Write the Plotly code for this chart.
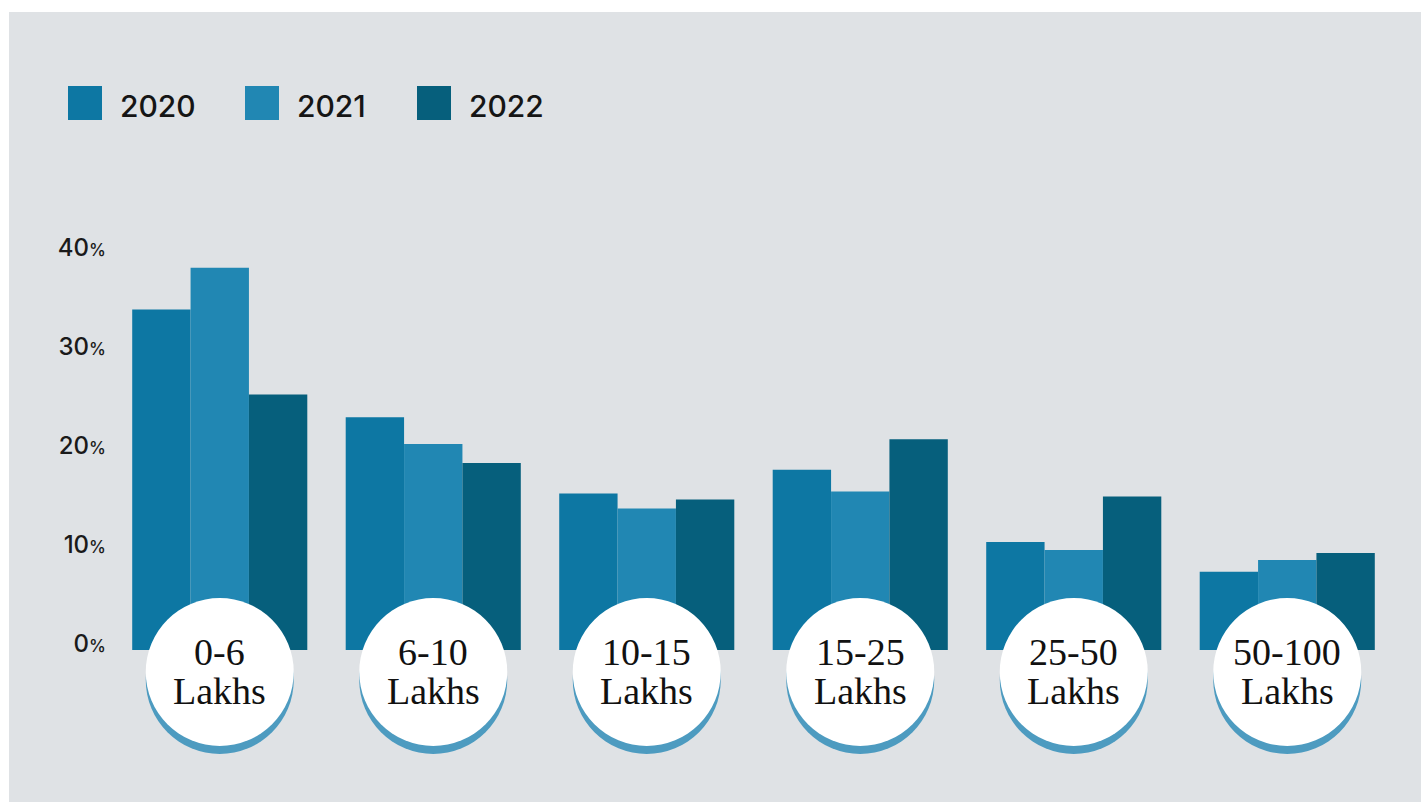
import plotly.graph_objects as go

# ---------------- data ----------------
categories = ["0-6 Lakhs", "6-10 Lakhs", "10-15 Lakhs", "15-25 Lakhs", "25-50 Lakhs", "50-100 Lakhs"]
cat_line1 = ["0-6", "6-10", "10-15", "15-25", "25-50", "50-100"]
cat_line2 = ["Lakhs"] * 6
years = ["2020", "2021", "2022"]
v2020 = [34.4, 23.5, 15.8, 18.2, 10.9, 7.9]
v2021 = [38.6, 20.8, 14.3, 16.0, 10.1, 9.1]
v2022 = [25.8, 18.9, 15.2, 21.3, 15.5, 9.8]
tick_vals = [0, 10, 20, 30, 40]
tick_text = ["0%", "10%", "20%", "30%", "40%"]

# ---------------- style / layout ----------------
W, H = 1421, 802
ML, MR, MT, MB = 113, 27, 254, 152
PW, PH = W - ML - MR, H - MT - MB
colors = ["#0d77a3", "#2187b3", "#065f7c"]
BG = "#dfe2e5"
TICK_FONT = "Inter"


def px_x(px):
    return (px - ML) / PW


def px_y(py):
    return (H - MB - py) / PH


fig = go.Figure()
for name, vals, col in zip(years, [v2020, v2021, v2022], colors):
    fig.add_trace(go.Bar(
        x=list(range(len(categories))), y=vals, name=name,
        marker=dict(color=col, line=dict(width=0)),
        hovertext=categories, showlegend=False,
    ))

shapes = []
# grey panel
shapes.append(dict(type="rect", xref="paper", yref="paper",
                   x0=px_x(9), x1=px_x(W + 5), y0=px_y(12), y1=px_y(H + 5),
                   fillcolor=BG, line=dict(width=0), layer="below"))

# category badges (shadow + white circle), anchored to category positions
R = 74
CY = -22  # pixel offset of circle centre below the zero line
for i in range(len(categories)):
    shapes.append(dict(type="circle", xref="x", yref="paper",
                       xsizemode="pixel", ysizemode="pixel",
                       xanchor=i, yanchor=0,
                       x0=-R, x1=R, y0=CY - 8 - R, y1=CY - 8 + R,
                       fillcolor="#4d9bc0", line=dict(width=0), layer="above"))
    shapes.append(dict(type="circle", xref="x", yref="paper",
                       xsizemode="pixel", ysizemode="pixel",
                       xanchor=i, yanchor=0,
                       x0=-R, x1=R, y0=CY - R, y1=CY + R,
                       fillcolor="white", line=dict(width=0), layer="above"))

annotations = []
for i in range(len(categories)):
    annotations.append(dict(x=i, xref="x", y=0, yref="paper", yshift=-2,
                            text=cat_line1[i], showarrow=False,
                            font=dict(family="Liberation Serif", size=38, color="#111111"),
                            xanchor="center", yanchor="middle"))
    annotations.append(dict(x=i, xref="x", y=0, yref="paper", yshift=-41,
                            text=cat_line2[i], showarrow=False,
                            font=dict(family="Liberation Serif", size=38, color="#111111"),
                            xanchor="center", yanchor="middle"))

# manual legend (large squares)
legend_sq_x = [68, 245, 417]
for yr, col, sx in zip(years, colors, legend_sq_x):
    shapes.append(dict(type="rect", xref="paper", yref="paper",
                       x0=px_x(sx), x1=px_x(sx + 34), y0=px_y(120), y1=px_y(86),
                       fillcolor=col, line=dict(width=0), layer="above"))
    annotations.append(dict(x=px_x(sx + 50), y=px_y(106), xref="paper", yref="paper",
                            text=yr, showarrow=False, xanchor="left", yanchor="middle",
                            font=dict(family=TICK_FONT, size=30, color="#151515", weight=500)))

ticktext_html = [t.replace("%", "<span style='font-size:17px'>%</span>") for t in tick_text]

fig.update_layout(
    width=W, height=H,
    margin=dict(l=ML, r=MR, t=MT, b=MB, pad=0),
    paper_bgcolor="white", plot_bgcolor="rgba(0,0,0,0)",
    barmode="group", bargap=0.18, bargroupgap=0,
    showlegend=False,
    shapes=shapes, annotations=annotations,
    xaxis=dict(range=[-0.5, len(categories) - 0.5], showticklabels=False,
               showgrid=False, zeroline=False, showline=False, ticks=""),
    yaxis=dict(range=[0, 40], tickvals=tick_vals, ticktext=ticktext_html,
               showgrid=False, zeroline=False, showline=False, ticks="",
               ticklabelshift=-6, ticklabelstandoff=6,
               tickfont=dict(family=TICK_FONT, size=24, color="#1a1a1a", weight=500)),
)

fig.write_html("out.html")
